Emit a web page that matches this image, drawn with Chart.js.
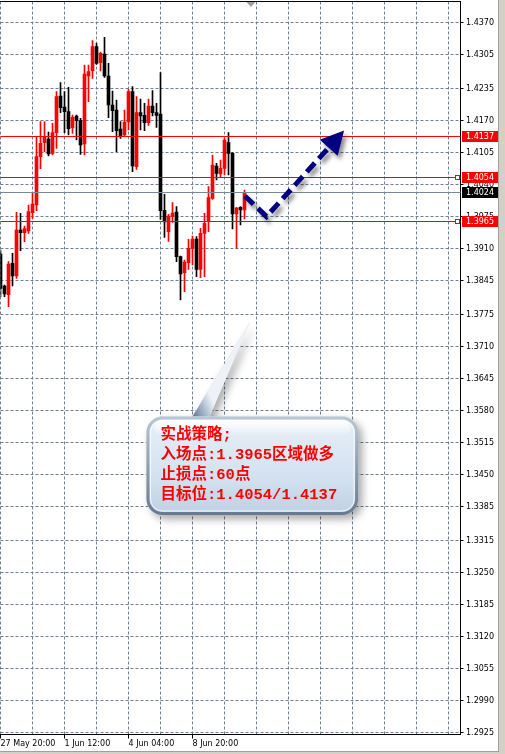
<!DOCTYPE html>
<html>
<head>
<meta charset="utf-8">
<script src="https://cdn.jsdelivr.net/npm/chart.js@4.4.1/dist/chart.umd.min.js"></script>
<style>
html, body { margin: 0; padding: 0; background: #d4d0c8; }
canvas { display: block; }
</style>
</head>
<body>
<canvas id="myChart" width="505" height="754"></canvas>
<script>
// H4 candles
var opens  = [1.38989,1.38337,1.38161,1.38799,1.38541,1.39477,1.39423,1.39457,1.39830,1.39986,
              1.40969,1.41254,1.41329,1.41037,1.41458,1.42204,1.41980,1.41885,1.41560,1.41797,
              1.41702,1.41227,1.42611,1.42720,1.43208,1.42883,1.43059,1.42611,1.42021,1.41919,
              1.41533,1.41410,1.41675,1.42292,1.40766,1.41865,1.41811,1.41661,1.42001,1.41865,
              1.41838,1.39877,1.39443,1.39748,1.39843,1.38934,1.38609,1.38812,1.39104,1.39294,
              1.38676,1.39409,1.39647,1.40121,1.40780,1.40617,1.40732,1.41254,1.41037,1.39803,
              1.39938,1.39884];
var highs  = [1.39070,1.38358,1.38832,1.39002,1.39837,1.39816,1.39558,1.39986,1.40223,1.41363,
              1.41682,1.41682,1.41471,1.41648,1.42292,1.42476,1.42292,1.42381,1.41817,1.41817,
              1.41750,1.42835,1.42835,1.43330,1.43276,1.43100,1.43398,1.42869,1.42306,1.42123,
              1.41682,1.41919,1.42340,1.42394,1.42191,1.42143,1.42055,1.42143,1.42313,1.42055,
              1.42679,1.40203,1.39796,1.40033,1.39952,1.38948,1.38866,1.39287,1.39355,1.39341,
              1.39511,1.39816,1.40359,1.41003,1.40834,1.40902,1.41343,1.41458,1.41051,1.39938,
              1.39952,1.40291];
var lows   = [1.38120,1.38120,1.37917,1.38337,1.38493,1.39056,1.39240,1.39409,1.39714,1.39870,
              1.40725,1.41071,1.40983,1.41003,1.41139,1.41865,1.41458,1.41410,1.41444,1.41309,
              1.41017,1.41003,1.42089,1.42564,1.42849,1.42713,1.42584,1.41763,1.41478,1.41071,
              1.41343,1.41390,1.41512,1.40664,1.40712,1.41512,1.41499,1.41607,1.41797,1.41566,
              1.39694,1.39328,1.39246,1.39633,1.38832,1.38052,1.38222,1.38676,1.38765,1.38527,
              1.38507,1.38527,1.39443,1.40101,1.40495,1.40562,1.40596,1.40596,1.39497,1.39104,
              1.39579,1.39701];
var closes = [1.38290,1.38174,1.38785,1.38541,1.39477,1.39423,1.39504,1.39850,1.40006,1.40969,
              1.41241,1.41363,1.41024,1.41458,1.42191,1.41967,1.41885,1.41539,1.41770,1.41702,
              1.41207,1.42652,1.42699,1.43208,1.42869,1.43072,1.42611,1.42021,1.41906,1.41499,
              1.41397,1.41675,1.42292,1.40780,1.41865,1.41797,1.41661,1.42001,1.41865,1.41811,
              1.39870,1.39640,1.39762,1.39823,1.38934,1.38581,1.38826,1.39104,1.39294,1.38676,
              1.39409,1.39613,1.40135,1.40800,1.40630,1.40732,1.41309,1.41037,1.39803,1.39925,
              1.39884,1.40240];

var barSlots = 116;   // candles + empty shift area to the right edge
var timeLabels = ['27 May 20:00', '1 Jun 12:00', '4 Jun 04:00', '8 Jun 20:00'];
var timeLabelStep = 16;
var gridStep = 8;

var yTicks = [1.4370,1.4305,1.4235,1.4170,1.4105,1.4040,1.3975,1.3910,1.3845,1.3775,1.3710,
              1.3645,1.3580,1.3515,1.3450,1.3385,1.3315,1.3250,1.3185,1.3120,1.3055,1.2990,1.2925];
var yMin = 1.292093, yMax = 1.441274;

// horizontal line objects and bid
var levels = [1.4137, 1.4054, 1.3965];
var selectedLevels = [1.4054, 1.3965];
var bidPrice = 1.4024;

// arrow drawing: [bar index, price]
var arrowPath = [[61.1, 1.4017], [66.5, 1.3975], [85.9, 1.4150]];

// callout: box [left idx, top price, right idx, bottom price], pointer base idx, tip
var calloutBox = [36.5, 1.35681, 89.4, 1.33677];
var calloutBase = [47.4, 51.9];
var calloutTip = [62.4, 1.37611];
var calloutLines = ['实战策略;', '入场点:1.3965区域做多', '止损点:60点', '目标位:1.4054/1.4137'];

var labels = [];
for (var i = 0; i < barSlots; i++) labels.push(String(i));
var bodies = [], wicks = [], colors = [];
for (var i = 0; i < opens.length; i++) {
    bodies.push([opens[i], closes[i]]);
    wicks.push([lows[i], highs[i]]);
    colors.push(closes[i] >= opens[i] ? '#ff0000' : '#000000');
}

var AXIS_FONT = {family: 'DejaVu Sans', size: 8};

function roundRect(ctx, x0, y0, x1, y1, r) {
    ctx.beginPath();
    ctx.moveTo(x0 + r, y0);
    ctx.lineTo(x1 - r, y0);
    ctx.arcTo(x1, y0, x1, y0 + r, r);
    ctx.lineTo(x1, y1 - r);
    ctx.arcTo(x1, y1, x1 - r, y1, r);
    ctx.lineTo(x0 + r, y1);
    ctx.arcTo(x0, y1, x0, y1 - r, r);
    ctx.lineTo(x0, y0 + r);
    ctx.arcTo(x0, y0, x0 + r, y0, r);
    ctx.closePath();
}

var mt4Plugin = {
    id: 'mt4',
    beforeDraw: function(chart) {
        var ctx = chart.ctx;
        ctx.save();
        ctx.fillStyle = '#ffffff';
        ctx.fillRect(0, 0, chart.width, chart.height);
        // window border right and bottom
        ctx.fillStyle = '#d4d0c8';
        ctx.fillRect(498, 0, 7, chart.height);
        ctx.fillRect(0, 751, chart.width, 3);
        ctx.fillStyle = '#a0a0a0';
        ctx.fillRect(498, 0, 1, 751);
        ctx.fillRect(0, 751, 499, 1);
        ctx.restore();
    },
    afterDatasetsDraw: function(chart) {
        var ctx = chart.ctx, a = chart.chartArea;
        var xs = chart.scales.x, ys = chart.scales.y;
        ctx.save();
        // bid line
        var yb = Math.floor(ys.getPixelForValue(bidPrice)) + 0.5;
        ctx.strokeStyle = '#778899';
        ctx.lineWidth = 1;
        ctx.beginPath(); ctx.moveTo(a.left, yb); ctx.lineTo(a.right, yb); ctx.stroke();
        // horizontal line objects
        ctx.strokeStyle = '#ff0000';
        levels.forEach(function(p) {
            var y = Math.floor(ys.getPixelForValue(p)) + 0.5;
            ctx.beginPath(); ctx.moveTo(a.left, y); ctx.lineTo(a.right, y); ctx.stroke();
        });
        selectedLevels.forEach(function(p) {
            var y = Math.floor(ys.getPixelForValue(p)) + 0.5;
            ctx.fillStyle = '#ffffff';
            ctx.fillRect(455.5, y - 2, 4, 4);
            ctx.strokeRect(455.5, y - 2, 4, 4);
        });
        // top frame line
        ctx.strokeStyle = '#000000';
        ctx.beginPath(); ctx.moveTo(0, Math.floor(a.top) + 0.5); ctx.lineTo(a.right, Math.floor(a.top) + 0.5); ctx.stroke();

        // arrow
        var pts = arrowPath.map(function(q) { return [xs.getPixelForValue(q[0]), ys.getPixelForValue(q[1])]; });
        var tip = pts[pts.length - 1], prev = pts[pts.length - 2];
        var ang = Math.atan2(tip[1] - prev[1], tip[0] - prev[0]);
        var hl = 23, hw = 12;
        var bx = tip[0] - hl * Math.cos(ang), by = tip[1] - hl * Math.sin(ang);
        ctx.shadowColor = 'rgba(0,0,0,0.45)';
        ctx.shadowBlur = 4;
        ctx.shadowOffsetX = 3;
        ctx.shadowOffsetY = 4;
        ctx.strokeStyle = '#000080';
        ctx.lineWidth = 5;
        ctx.setLineDash([12, 6]);
        ctx.beginPath();
        ctx.moveTo(pts[0][0], pts[0][1]);
        for (var k = 1; k < pts.length - 1; k++) ctx.lineTo(pts[k][0], pts[k][1]);
        ctx.lineTo(bx, by);
        ctx.stroke();
        ctx.setLineDash([]);
        ctx.fillStyle = '#000080';
        ctx.beginPath();
        ctx.moveTo(tip[0], tip[1]);
        ctx.lineTo(bx + hw * Math.sin(ang), by - hw * Math.cos(ang));
        ctx.lineTo(bx - hw * Math.sin(ang), by + hw * Math.cos(ang));
        ctx.closePath();
        ctx.fill();
        ctx.restore();
    },
    afterDraw: function(chart) {
        var ctx = chart.ctx, a = chart.chartArea;
        var xs = chart.scales.x, ys = chart.scales.y;
        ctx.save();
        // price boxes on the axis
        ctx.font = '8px "DejaVu Sans"';
        ctx.textBaseline = 'middle';
        var boxes = levels.map(function(p) { return [p, '#ff0000']; });
        boxes.push([bidPrice, '#000000']);
        boxes.forEach(function(b) {
            var y = Math.floor(ys.getPixelForValue(b[0]));
            ctx.fillStyle = b[1];
            ctx.fillRect(462, y - 5, 36, 11);
            ctx.fillStyle = '#ffffff';
            ctx.fillText(b[0].toFixed(4), 466, y + 0.5);
        });
        // chart shift marker
        var sx = xs.getPixelForValue(opens.length + 0.6);
        ctx.fillStyle = '#a0a0a0';
        ctx.beginPath();
        ctx.moveTo(sx - 4.5, 2); ctx.lineTo(sx + 4.5, 2); ctx.lineTo(sx, 7);
        ctx.closePath(); ctx.fill();

        // callout bubble
        var x0 = xs.getPixelForValue(calloutBox[0]), y0 = ys.getPixelForValue(calloutBox[1]);
        var x1 = xs.getPixelForValue(calloutBox[2]), y1 = ys.getPixelForValue(calloutBox[3]);
        var b0 = xs.getPixelForValue(calloutBase[0]), b1 = xs.getPixelForValue(calloutBase[1]);
        var tx = xs.getPixelForValue(calloutTip[0]), ty = ys.getPixelForValue(calloutTip[1]);
        var r = 16;

        ctx.save();
        ctx.shadowColor = 'rgba(0,0,0,0.35)';
        ctx.shadowBlur = 8;
        ctx.shadowOffsetX = 4;
        ctx.shadowOffsetY = 4;
        ctx.fillStyle = '#c8d6e6';
        roundRect(ctx, x0, y0, x1, y1, r);
        ctx.fill();
        ctx.beginPath();
        ctx.moveTo(b0, y0 + 4); ctx.lineTo(tx, ty); ctx.lineTo(b1, y0 + 4);
        ctx.closePath(); ctx.fill();
        ctx.restore();

        // pointer with shading
        var pg = ctx.createLinearGradient(b0 - 4, y0, b1 + 6, y0 - 12);
        pg.addColorStop(0, '#3c4e67');
        pg.addColorStop(0.45, '#8d9fb5');
        pg.addColorStop(1, '#eef2f7');
        ctx.fillStyle = pg;
        ctx.beginPath();
        ctx.moveTo(b0, y0 + 4); ctx.lineTo(tx, ty); ctx.lineTo(b1, y0 + 4);
        ctx.closePath(); ctx.fill();

        // body
        var bg = ctx.createLinearGradient(0, y0, 0, y1);
        bg.addColorStop(0, '#f6f9fc');
        bg.addColorStop(0.15, '#e2ecf6');
        bg.addColorStop(0.6, '#d4e2f0');
        bg.addColorStop(1, '#bfd0e3');
        ctx.fillStyle = bg;
        roundRect(ctx, x0, y0, x1, y1, r);
        ctx.fill();
        var sg = ctx.createLinearGradient(0, y0, 0, y1);
        sg.addColorStop(0, '#b9c6d5');
        sg.addColorStop(1, '#66798f');
        ctx.strokeStyle = sg;
        ctx.lineWidth = 3;
        roundRect(ctx, x0 + 1.5, y0 + 1.5, x1 - 1.5, y1 - 1.5, r - 1.5);
        ctx.stroke();
        ctx.strokeStyle = 'rgba(255,255,255,0.8)';
        ctx.lineWidth = 1;
        roundRect(ctx, x0 + 4, y0 + 4, x1 - 4, y1 - 4, r - 4);
        ctx.stroke();
        var gg = ctx.createLinearGradient(0, y0 + 4, 0, y0 + 20);
        gg.addColorStop(0, 'rgba(255,255,255,0.85)');
        gg.addColorStop(1, 'rgba(255,255,255,0)');
        ctx.fillStyle = gg;
        roundRect(ctx, x0 + 8, y0 + 4, x1 - 8, y0 + 20, 8);
        ctx.fill();

        // text
        ctx.fillStyle = '#ff0000';
        ctx.font = 'bold 15.5px "Liberation Mono", "Noto Sans CJK SC"';
        ctx.textBaseline = 'middle';
        ctx.textAlign = 'left';
        calloutLines.forEach(function(t, k) {
            ctx.fillText(t, x0 + 14, y0 + 18.5 + k * 20);
        });
        ctx.restore();
    }
};

var ctx = document.getElementById('myChart').getContext('2d');
var chart = new Chart(ctx, {
    type: 'bar',
    data: {
        labels: labels,
        datasets: [{
            label: 'body',
            data: bodies,
            backgroundColor: colors,
            borderWidth: 0,
            barThickness: 3,
            minBarLength: 1,
            grouped: false
        }, {
            label: 'wick',
            data: wicks,
            backgroundColor: colors,
            borderWidth: 0,
            barThickness: 1,
            grouped: false
        }]
    },
    plugins: [mt4Plugin],
    options: {
        responsive: false,
        animation: false,
        devicePixelRatio: 1,
        layout: {padding: {left: 0.5, top: 1.5, right: 0, bottom: 0}},
        plugins: {legend: {display: false}, tooltip: {enabled: false}},
        scales: {
            x: {
                type: 'category',
                offset: false,
                grid: {
                    offset: false,
                    color: '#708090',
                    tickLength: 4,
                    tickColor: function(c) {
                        var v = c.tick ? c.tick.value : -1;
                        return (v % timeLabelStep === 0 && v / timeLabelStep < timeLabels.length) ? '#000000' : 'rgba(0,0,0,0)';
                    }
                },
                border: {display: true, color: '#000000', dash: [3, 2]},
                ticks: {
                    autoSkip: false,
                    maxRotation: 0,
                    minRotation: 0,
                    align: 'start',
                    padding: 1,
                    color: '#000000',
                    font: AXIS_FONT,
                    callback: function(v) {
                        return v % timeLabelStep === 0 ? (timeLabels[v / timeLabelStep] || '') : '';
                    }
                },
                afterBuildTicks: function(s) {
                    var t = [];
                    for (var i = 0; i < barSlots; i += gridStep) t.push({value: i});
                    s.ticks = t;
                },
                afterFit: function(s) {
                    s.height = 19.5;
                    s.paddingLeft = 0;
                    s.paddingRight = 0;
                }
            },
            y: {
                type: 'linear',
                position: 'right',
                min: yMin,
                max: yMax,
                grid: {color: '#708090', tickLength: 3, tickColor: '#000000'},
                border: {display: true, color: '#000000', dash: [3, 2]},
                ticks: {
                    padding: 2.5,
                    color: '#000000',
                    font: AXIS_FONT,
                    callback: function(v) { return v.toFixed(4); }
                },
                afterBuildTicks: function(s) {
                    s.ticks = yTicks.map(function(v) { return {value: v}; });
                },
                afterFit: function(s) {
                    s.width = 44.5;
                    s.paddingTop = 0;
                    s.paddingBottom = 0;
                }
            }
        }
    }
});
</script>
</body>
</html>
